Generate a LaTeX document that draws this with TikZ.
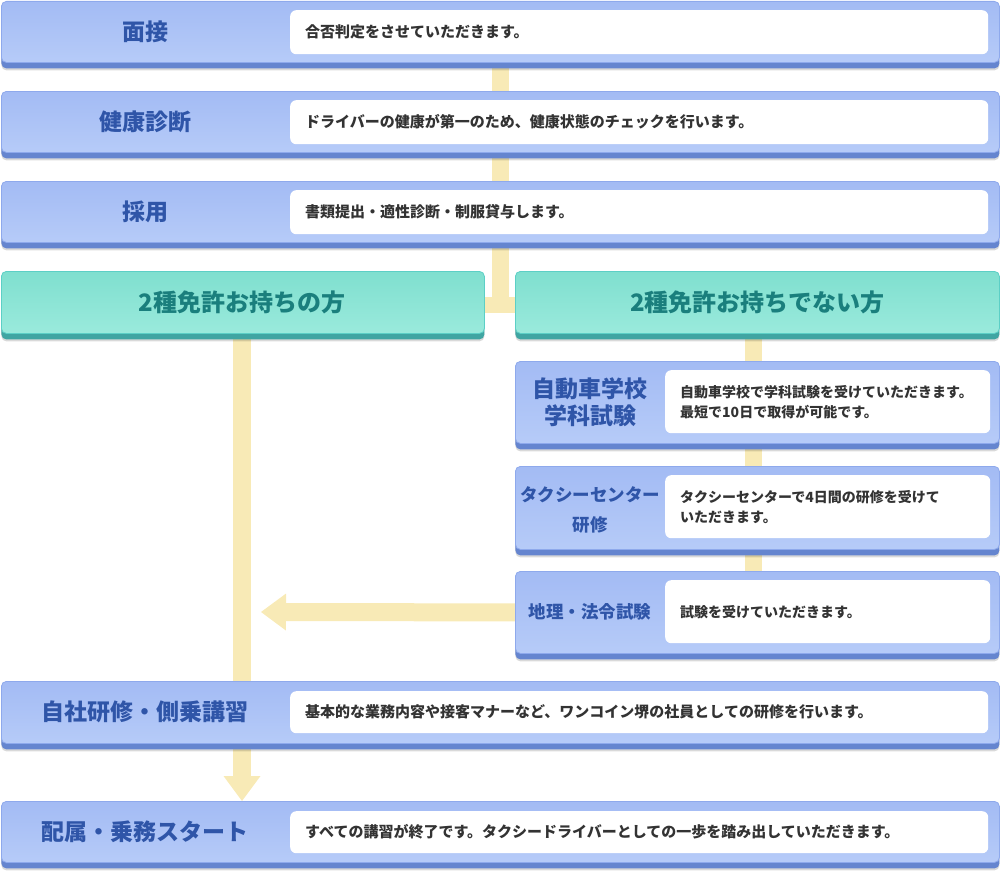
\documentclass[tikz,border=0pt]{standalone}
\usepackage{fontspec}
\setmainfont{Noto Sans CJK JP}
\usetikzlibrary{shadows,backgrounds,arrows.meta}
\definecolor{btop}{HTML}{A3BBF4}
\definecolor{bbot}{HTML}{B6CBF8}
\definecolor{bborder}{HTML}{8EA9EC}
\definecolor{bdark}{HTML}{6585CF}
\definecolor{gtop}{HTML}{7FDFCF}
\definecolor{gbot}{HTML}{9AEADC}
\definecolor{gborder}{HTML}{5CCFC6}
\definecolor{gdark}{HTML}{40A5A2}
\definecolor{ttl}{HTML}{2F55A8}
\definecolor{gtxt}{HTML}{1A7F7D}
\definecolor{txt}{HTML}{333333}
\definecolor{ycol}{HTML}{F8EAB6}
\begin{document}
\begin{tikzpicture}[x=1pt,y=-1pt,
  box/.style={rectangle, rounded corners=5pt, inner sep=0pt, line width=0.8pt, anchor=north west},
  bluebox/.style={box, draw=bborder, top color=btop, bottom color=bbot,
     general shadow={fill=black, opacity=0.15, shadow yshift=-8pt},
     general shadow={fill=bdark, shadow yshift=-6pt}},
  greenbox/.style={box, draw=gborder, top color=gtop, bottom color=gbot,
     general shadow={fill=black, opacity=0.15, shadow yshift=-8pt},
     general shadow={fill=gdark, shadow yshift=-6pt}},
  whitebox/.style={rectangle, rounded corners=6pt, fill=white, anchor=north west, inner xsep=15pt, inner ysep=0pt, align=left, text=txt, font=\fontsize{15}{20}\selectfont\bfseries},
  smallwhite/.style={whitebox, minimum width=325pt, minimum height=63pt, text width=295pt, font=\fontsize{14}{20}\selectfont\bfseries},
  title/.style={text=ttl, align=center, inner sep=0pt, font=\fontsize{23}{27}\selectfont\bfseries},
  gtitle/.style={text=gtxt, align=center, inner sep=0pt, font=\fontsize{24}{28}\selectfont\bfseries},
  ybar/.style={draw=ycol, line width=17pt},
  yarrow/.style={draw=ycol, line width=18pt, -{Triangle[width=37pt,length=25pt,line width=0pt]}},
]
\useasboundingbox (0,0) rectangle (1000,875);
\coordinate (cx) at (500.5,0);
\coordinate (rx) at (753.5,0);
\coordinate (lx) at (242,0);
\coordinate (jy) at (0,305);
\coordinate (join) at (500.5,313);
\coordinate (htip) at (261,612);

% top rows
\node[bluebox, minimum width=998pt, minimum height=61pt] (r1) at (1,1) {};
\node[title] (t1) at (145,32) {面接};
\node[whitebox, minimum width=698pt, minimum height=44pt, text width=668pt] (d1) at (290,10) {合否判定をさせていただきます。};

\node[bluebox, minimum width=998pt, minimum height=61pt] (r2) at (1,91) {};
\node[title] (t2) at (145,122) {健康診断};
\node[whitebox, minimum width=698pt, minimum height=44pt, text width=668pt] (d2) at (290,100) {ドライバーの健康が第一のため、健康状態のチェックを行います。};

\node[bluebox, minimum width=998pt, minimum height=61pt] (r3) at (1,181) {};
\node[title] (t3) at (145,212) {採用};
\node[whitebox, minimum width=698pt, minimum height=44pt, text width=668pt] (d3) at (290,190) {書類提出・適性診断・制服貸与します。};

% green
\node[greenbox, minimum width=483pt, minimum height=62pt] (gl) at (1,271) {};
\node[gtitle] (glt) at (242,302.5) {2種免許お持ちの方};
\node[greenbox, minimum width=484pt, minimum height=62pt] (gr) at (515,271) {};
\node[gtitle] (grt) at (757.5,302.5) {2種免許お持ちでない方};

% right column
\node[bluebox, minimum width=484pt, minimum height=82pt] (ra) at (515,361) {};
\node[title, font=\fontsize{23}{27}\selectfont\bfseries] (ta) at (590,402) {自動車学校\\学科試験};
\node[smallwhite] (da) at (665,370) {自動車学校で学科試験を受けていただきます。\\最短で10日で取得が可能です。};

\node[bluebox, minimum width=484pt, minimum height=83pt] (rb) at (515,466) {};
\node[title, font=\fontsize{17.5}{30}\selectfont\bfseries] (tb) at (590,510) {タクシーセンター\\研修};
\node[smallwhite] (db) at (665,475) {タクシーセンターで4日間の研修を受けて\\いただきます。};

\node[bluebox, minimum width=484pt, minimum height=82pt] (rc) at (515,571) {};
\node[title, font=\fontsize{17.5}{22}\selectfont\bfseries] (tc) at (590,612) {地理・法令試験};
\node[smallwhite] (dc) at (665,580) {試験を受けていただきます。};

% bottom rows
\node[bluebox, minimum width=998pt, minimum height=62pt] (r4) at (1,681) {};
\node[title] (t4) at (145,712) {自社研修・側乗講習};
\node[whitebox, minimum width=698pt, minimum height=42pt, text width=668pt] (d4) at (290,691) {基本的な業務内容や接客マナーなど、ワンコイン堺の社員としての研修を行います。};

\node[bluebox, minimum width=998pt, minimum height=61pt] (r5) at (1,801) {};
\node[title] (t5) at (145,832) {配属・乗務スタート};
\node[whitebox, minimum width=698pt, minimum height=42pt, text width=668pt] (d5) at (290,811) {すべての講習が終了です。タクシードライバーとしての一歩を踏み出していただきます。};

\begin{scope}[on background layer]
\draw[ybar] (r1.south -| cx) -- (r2.north -| cx);
\draw[ybar] (r2.south -| cx) -- (r3.north -| cx);
\draw[ybar] (r3.south -| cx) -- (join);
\draw[ybar, line width=16pt] (gl.east |- jy) -- (gr.west |- jy);
\draw[ybar] (gr.south -| rx) -- (ra.north -| rx);
\draw[ybar] (ra.south -| rx) -- (rb.north -| rx);
\draw[ybar] (rb.south -| rx) -- (rc.north -| rx);
\draw[ybar, line width=18pt] (gl.south -| lx) -- (r4.north -| lx);
\draw[yarrow] (rc.west) -- (htip);
\draw[yarrow] (r4.south -| lx) -- (r5.north -| lx);
\end{scope}
\end{tikzpicture}
\end{document}
